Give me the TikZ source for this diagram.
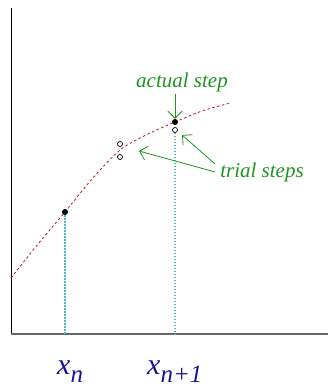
\documentclass[tikz,border=0pt]{standalone}
\usepackage{fontspec}
\setmainfont{Liberation Serif}
\usetikzlibrary{arrows.meta}
\definecolor{stepgreen}{RGB}{30,150,30}
\definecolor{curvered}{RGB}{170,30,30}
\definecolor{dropcyan}{RGB}{80,185,195}
\definecolor{labelblue}{RGB}{20,20,150}
\newcommand{\lowsub}[1]{\raisebox{-0.28em}{\fontsize{25}{25}\selectfont #1}}
\begin{document}
\begin{tikzpicture}[x=1pt,y=-1pt,
  dot/.style={circle,fill=black,inner sep=0pt,minimum size=6pt},
  trial/.style={circle,draw=black,fill=white,line width=0.7pt,inner sep=0pt,minimum size=5pt},
  note/.style={text=stepgreen,font=\fontsize{21}{24}\selectfont\itshape,inner sep=2pt},
  xlab/.style={text=labelblue,font=\fontsize{30}{32}\selectfont\itshape,inner sep=0pt,anchor=base west},
  drop/.style={dropcyan,line width=1.2pt,dash pattern=on 1.5pt off 1.5pt},
  >={Straight Barb[length=2.5mm]}]
\useasboundingbox (0,0) rectangle (328,387);
% axes
\draw[line width=0.8pt] (11,8) -- (11,334);
\draw[gray!80!black,line width=1.3pt] (11,334) -- (328,334);
% curve
\draw[curvered,line width=0.8pt,dash pattern=on 2.5pt off 2.5pt]
  plot[smooth] coordinates {(11,278) (38,244) (65,212) (92,179) (120,150) (148,134) (175,122) (202,111) (230,103)};
% drop lines
\coordinate (bn) at (65,334);
\coordinate (bm) at (175,334);
\node[dot] (pn) at (65,212) {};
\node[dot] (pm) at (175,122) {};
\node[trial] (t1) at (120,144) {};
\node[trial] (t2) at (120,157) {};
\node[trial] (t3) at (175,130) {};
\draw[drop] (pn) -- (bn);
\draw[drop] (t3) -- (bm);
% labels
\node[note] (act) at (182,82) {actual step};
\node[note] (tri) at (262,172) {trial steps};
\coordinate (c1) at (139,151);
\coordinate (c2) at (182,135);
\draw[->,stepgreen,line width=0.8pt] (act.south -| pm) -- (pm.north);
\draw[->,stepgreen,line width=0.8pt] (tri.west) ++(-3,0) -- (c1);
\draw[->,stepgreen,line width=0.8pt] (tri.west) ++(-3,-8) -- (c2);
\node[xlab] (xn) at (57,374) {x\lowsub{n}};
\node[xlab] (xm) at (147,374) {x\lowsub{n+1}};
\end{tikzpicture}
\end{document}
